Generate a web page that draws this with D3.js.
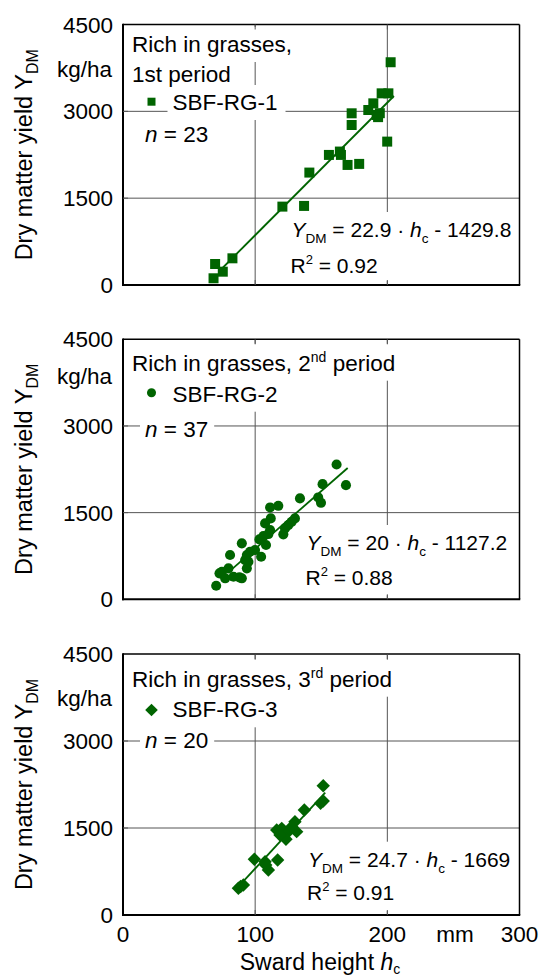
<!DOCTYPE html>
<html><head><meta charset="utf-8">
<script src="https://cdn.jsdelivr.net/npm/d3@7/dist/d3.min.js"></script>
<style>body{margin:0;background:#fff} svg{display:block} text{font-family:"Liberation Sans",Arial,sans-serif;fill:#000}</style>
</head><body><svg id="c" width="539" height="977"></svg>
<script>
// ---------------- data ----------------
const xTicks = [0, 100, 200, 300];
const yTicks = [0, 1500, 3000, 4500];
const xUnit = "mm";
const yUnit = "kg/ha";
const seriesNames = ["SBF-RG-1", "SBF-RG-2", "SBF-RG-3"];
const periods = ["1st", "2", "3"];
const nCounts = [23, 37, 20];
const slopes = [22.9, 20, 24.7];
const intercepts = [-1429.8, -1127.2, -1669];
const r2Values = ["0.92", "0.88", "0.91"];
const fitRanges = [[73, 205], [82, 170], [88, 153]];

const sbfRG1 = [[69.7,363],[68.5,116],[75.5,230],[82.8,461],[120.6,1354],[137,1366],[141,1942],
  [155.8,2247],[164.1,2305],[164.9,2247],[169.9,2074],[178.7,2092],[173,2966],[173,2764],
  [185.6,3023],[189.4,3138],[191.9,2937],[194.3,2968],[195.7,3311],[200.8,3311],[202.5,3848],
  [199.9,2477],[193,2900]];
const sbfRG2 = [[161.6,2334],[168.7,1976],[151,1993],[133.9,1746],[147.7,1763],[149.8,1670],
  [111.3,1590],[117.5,1618],[111.8,1400],[130.1,1400],[125.1,1284],[121.3,1124],[111.3,1198],
  [106.2,1094],[108.2,939],[104.5,737],[103.2,1037],[89.9,968],[81,766],[93.7,766],[96.1,823],
  [93.7,536],[94.9,650],[88.1,380],[79.8,536],[74.8,477],[73,449],[77.3,363],[83.6,391],
  [70.5,235],[89.9,363],[110,1129],[99.9,852],[92.4,679],[127.6,1341],[122.6,1227],[107.5,1314]];
const sbfRG3 = [[151.5,2229],[151.5,1966],[149.5,1925],[137.2,1810],[130.1,1609],[131.4,1437],
  [120.1,1494],[116.3,1466],[123.9,1408],[123.3,1305],[118.8,1379],[127.6,1522],[117,948],
  [99.4,960],[107.5,919],[110,776],[108,860],[91.1,517],[87.3,460],[89,490]];
const seriesData = [sbfRG1, sbfRG2, sbfRG3];
const symbolTypes = ["square", "circle", "diamond"];

// ---------------- layout ----------------
const FONT = 22.5;
const EQFONT = 21;
const green = "#006400";
const svg = d3.select("#c");
const left = 123, right = 519.5;
const panels = [
  {top: 24.5, bottom: 285, kg: 77, title: [52, 82], leg: [101.7, 110], n: 142, eq: [237, 273], eqx: 291.5},
  {top: 339.3, bottom: 599.3, kg: 384, title: [370.7], leg: [392.7, 401.7], n: 436.7, eq: [550, 585], eqx: 306.5},
  {top: 654, bottom: 915, kg: 706, title: [686.7], leg: [710, 717.3], n: 748.3, eq: [866.7, 900], eqx: 308}
];
const x = d3.scaleLinear().domain([0, 300]).range([left, right]);

function sym(type, size) {
  if (type === "circle") return d3.symbol().type(d3.symbolCircle).size(size)();
  return d3.symbol().type(d3.symbolSquare).size(size)();
}

panels.forEach((p, i) => {
  const y = d3.scaleLinear().domain([0, 4500]).range([p.bottom, p.top]);
  const g = svg.append("g");
  const gGrid = g.append("g"), gBox = g.append("g"), gText = g.append("g"),
        gFrame = g.append("g"), gData = g.append("g");

  // grid
  gGrid.selectAll("line.gx").data(xTicks.slice(1, -1)).join("line")
    .attr("x1", d => x(d)).attr("x2", d => x(d)).attr("y1", p.top).attr("y2", p.bottom)
    .attr("stroke", "#555").attr("stroke-width", 1);
  gGrid.selectAll("line.gy").data(yTicks.slice(1, -1)).join("line")
    .attr("y1", d => y(d)).attr("y2", d => y(d)).attr("x1", left).attr("x2", right)
    .attr("stroke", "#555").attr("stroke-width", 1);

  function addBox(sel, pad, padR) {
    const b = sel.node().getBBox();
    gBox.append("rect").attr("x", b.x - pad).attr("y", b.y - pad)
      .attr("width", b.width + pad + (padR == null ? pad : padR)).attr("height", b.height + 2 * pad)
      .attr("fill", "#fff");
  }

  // title
  if (i === 0) {
    const t1 = gText.append("text").attr("x", 132).attr("y", p.title[0]).attr("font-size", FONT).text("Rich in grasses,");
    addBox(t1, 5);
    const t2 = gText.append("text").attr("x", 132).attr("y", p.title[1]).attr("font-size", FONT).text(periods[0] + " period");
    addBox(t2, 5);
  } else {
    const t = gText.append("text").attr("x", 132).attr("y", p.title[0]).attr("font-size", FONT);
    t.append("tspan").text("Rich in grasses, " + periods[i]);
    t.append("tspan").attr("font-size", 14).attr("dy", -9).text(i === 1 ? "nd" : "rd");
    t.append("tspan").attr("dy", 9).text(" period");
    addBox(t, 5);
  }

  // legend
  const lx = 151.5;
  const legMarkSize = symbolTypes[i] === "diamond" ? 80 : 64;
  gText.append("path").attr("d", sym(symbolTypes[i], legMarkSize))
    .attr("transform", `translate(${lx},${p.leg[0]})` + (symbolTypes[i] === "diamond" ? " rotate(45)" : ""))
    .attr("fill", green);
  const lt = gText.append("text").attr("x", 172.5).attr("y", p.leg[1]).attr("font-size", FONT).text(seriesNames[i]);
  addBox(lt, 5, 8);

  // n
  const nt = gText.append("text").attr("x", 145).attr("y", p.n).attr("font-size", FONT);
  nt.append("tspan").attr("font-style", "italic").text("n");
  nt.append("tspan").text(" = " + nCounts[i]);
  addBox(nt, 5, 6);

  // equation
  const et = gText.append("text").attr("x", p.eqx).attr("y", p.eq[0]).attr("font-size", EQFONT);
  et.append("tspan").attr("font-style", "italic").text("Y");
  et.append("tspan").attr("font-size", 13.5).attr("dy", 6).text("DM");
  et.append("tspan").attr("dy", -6).text(" = " + slopes[i] + " \u00b7 ");
  et.append("tspan").attr("font-style", "italic").text("h");
  et.append("tspan").attr("font-size", 13.5).attr("dy", 6).text("c");
  et.append("tspan").attr("dy", -6).text(" - " + Math.abs(intercepts[i]));
  const rt = gText.append("text").attr("x", p.eqx - 1).attr("y", p.eq[1]).attr("font-size", EQFONT);
  rt.append("tspan").text("R");
  rt.append("tspan").attr("font-size", 13).attr("dy", -9).text("2");
  rt.append("tspan").attr("dy", 9).text(" = " + r2Values[i]);
  {
    const b1 = et.node().getBBox(), b2 = rt.node().getBBox();
    const x0 = Math.min(b1.x, b2.x) - 5, y0 = b1.y - 6;
    const x1 = Math.max(b1.x + b1.width, b2.x + b2.width) + 4, y1 = p.bottom - 4;
    gBox.append("rect").attr("x", x0).attr("y", y0).attr("width", x1 - x0).attr("height", y1 - y0).attr("fill", "#fff");
  }

  // frame
  gFrame.append("line").attr("x1", left).attr("x2", right).attr("y1", p.top).attr("y2", p.top).attr("stroke", "#000").attr("stroke-width", 1.5);
  gFrame.append("line").attr("x1", right).attr("x2", right).attr("y1", p.top).attr("y2", p.bottom).attr("stroke", "#000").attr("stroke-width", 1.5);
  gFrame.append("line").attr("x1", left).attr("x2", left).attr("y1", p.top - 0.75).attr("y2", p.bottom + 1).attr("stroke", "#000").attr("stroke-width", 2);
  gFrame.append("line").attr("x1", left - 1).attr("x2", right + 0.75).attr("y1", p.bottom).attr("y2", p.bottom).attr("stroke", "#000").attr("stroke-width", 2);
  // inward ticks
  gFrame.selectAll("line.tb").data(xTicks.slice(1, -1)).join("line")
    .attr("x1", d => x(d)).attr("x2", d => x(d)).attr("y1", p.bottom).attr("y2", p.bottom - 5).attr("stroke", "#555");
  gFrame.selectAll("line.tt").data(xTicks.slice(1, -1)).join("line")
    .attr("x1", d => x(d)).attr("x2", d => x(d)).attr("y1", p.top).attr("y2", p.top + 5).attr("stroke", "#555");
  gFrame.selectAll("line.tl").data(yTicks.slice(1, -1)).join("line")
    .attr("y1", d => y(d)).attr("y2", d => y(d)).attr("x1", left).attr("x2", left + 5).attr("stroke", "#555");

  // y tick labels
  gFrame.selectAll("text.yt").data(yTicks).join("text")
    .attr("x", 113).attr("y", d => y(d) + 8).attr("text-anchor", "end").attr("font-size", FONT).text(d => d);
  gFrame.append("text").attr("x", 112).attr("y", p.kg).attr("text-anchor", "end").attr("font-size", FONT).text(yUnit);

  // y label
  const yl = gFrame.append("text").attr("transform", `translate(32,${(p.top + p.bottom) / 2}) rotate(-90)`)
    .attr("text-anchor", "middle").attr("font-size", 23.5);
  yl.append("tspan").text("Dry matter yield Y");
  yl.append("tspan").attr("font-size", 16).attr("dy", 6).text("DM");

  // regression line
  const fr = fitRanges[i];
  gData.append("line")
    .attr("x1", x(fr[0])).attr("y1", y(slopes[i] * fr[0] + intercepts[i]))
    .attr("x2", x(fr[1])).attr("y2", y(slopes[i] * fr[1] + intercepts[i]))
    .attr("stroke", green).attr("stroke-width", 1.8);

  // points
  const size = symbolTypes[i] === "square" ? 100 : (symbolTypes[i] === "circle" ? 80 : 90);
  gData.selectAll("path.pt").data(seriesData[i]).join("path")
    .attr("d", sym(symbolTypes[i], size))
    .attr("transform", d => `translate(${x(d[0])},${y(d[1])})` + (symbolTypes[i] === "diamond" ? " rotate(45)" : ""))
    .attr("fill", green);
});

// x axis labels (bottom panel only)
svg.selectAll("text.xt").data(xTicks).join("text")
  .attr("x", d => x(d)).attr("y", 941.5).attr("text-anchor", "middle").attr("font-size", FONT).text(d => d);
svg.append("text").attr("x", 455).attr("y", 941.5).attr("text-anchor", "middle").attr("font-size", FONT).text(xUnit);
const xl = svg.append("text").attr("x", 320).attr("y", 970).attr("text-anchor", "middle").attr("font-size", 23);
xl.append("tspan").text("Sward height ");
xl.append("tspan").attr("font-style", "italic").text("h");
xl.append("tspan").attr("font-size", 14).attr("dy", 3.5).text("c");
</script></body></html>
